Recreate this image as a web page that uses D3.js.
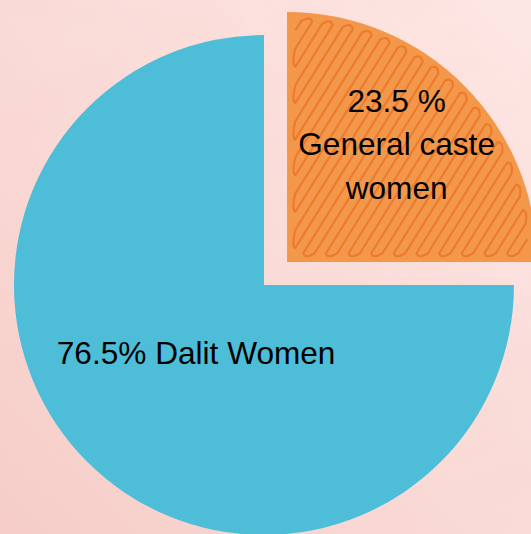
<!DOCTYPE html>
<html>
<head>
<meta charset="utf-8">
<script src="https://cdn.jsdelivr.net/npm/d3@7"></script>
<style>
  body { margin: 0; background: #f9d9d5; }
  svg { display: block; font-family: "Liberation Sans", Arial, sans-serif; }
</style>
</head>
<body>
<svg id="chart"></svg>
<script>
// Dalit vs general caste women pie

var width = 531,
    height = 534;

// slices, in drawing order (clockwise from 12 o'clock)
var categories = ["General caste women", "Dalit Women"];
var percentages = [23.5, 76.5];
var labelLines = [["23.5 %", "General caste", "women"], ["76.5% Dalit Women"]];
// part of the circle each slice covers in the graphic (drawn as exact quarters)
var drawnShares = [25, 75];
var colors = ["#f3984b", "#4ebdd8"];

var radius = 250,
    center = [275.5, 273.5],
    explode = 16.3;

var svg = d3.select("#chart")
    .attr("width", width)
    .attr("height", height);

var defs = svg.append("defs");

// pink watercolour-ish backdrop
var bg = defs.append("linearGradient")
    .attr("id", "bg")
    .attr("x1", "100%").attr("y1", "0%")
    .attr("x2", "0%").attr("y2", "100%");
bg.append("stop").attr("offset", "0%").attr("stop-color", "#fde7e4");
bg.append("stop").attr("offset", "55%").attr("stop-color", "#fadad6");
bg.append("stop").attr("offset", "100%").attr("stop-color", "#f6cdc8");

var noise = defs.append("filter").attr("id", "noise")
    .attr("x", 0).attr("y", 0).attr("width", "100%").attr("height", "100%");
noise.append("feTurbulence")
    .attr("type", "fractalNoise")
    .attr("baseFrequency", "0.011 0.018")
    .attr("numOctaves", 4)
    .attr("seed", 7);
noise.append("feColorMatrix")
    .attr("type", "matrix")
    .attr("values", "0 0 0 0 0.93  0 0 0 0 0.64  0 0 0 0 0.62  0.9 0 0 0 -0.38");

svg.append("rect").attr("width", width).attr("height", height).attr("fill", "url(#bg)");
svg.append("rect").attr("width", width).attr("height", height)
    .attr("filter", "url(#noise)").attr("opacity", 0.6);

var pie = d3.pie()
    .sort(null)
    .value(function(d, i) { return drawnShares[i]; });

var arc = d3.arc()
    .innerRadius(0)
    .outerRadius(radius);

var arcs = pie(categories);

function midAngle(a) { return (a.startAngle + a.endAngle) / 2; }

var slices = svg.selectAll(".slice")
    .data(arcs)
    .enter().append("g")
    .attr("class", "slice")
    .attr("transform", function(a) {
      var m = midAngle(a);
      return "translate(" + (center[0] + Math.sin(m) * explode) + "," +
                            (center[1] - Math.cos(m) * explode) + ")";
    });

slices.append("path")
    .attr("d", arc)
    .attr("fill", function(a, i) { return colors[i]; });

// scribbled hatching for the small slice
function inside(a, x, y, inset) {
  var r = Math.sqrt(x * x + y * y);
  if (r > radius - inset) return false;
  var ang = Math.atan2(x, -y);
  if (ang < 0) ang += 2 * Math.PI;
  if (ang < a.startAngle || ang > a.endAngle) return false;
  return r * Math.sin(ang - a.startAngle) >= inset && r * Math.sin(a.endAngle - ang) >= inset;
}

function scribble(a) {
  var th = 58 * Math.PI / 180,
      d = [Math.cos(th), -Math.sin(th)],   // stroke direction (up-right)
      w = [Math.sin(th), Math.cos(th)],    // across the strokes
      step = 9.6,
      lines = [];
  for (var c = -radius; c <= radius; c += step) {
    var lo = null, hi = null;
    for (var s = -radius; s <= radius; s += 1) {
      var x = c * w[0] + s * d[0], y = c * w[1] + s * d[1];
      if (inside(a, x, y, 8)) { if (lo === null) lo = s; hi = s; }
    }
    if (lo !== null && hi - lo > 6) {
      lines.push({
        lo: [c * w[0] + lo * d[0], c * w[1] + lo * d[1]],
        hi: [c * w[0] + hi * d[0], c * w[1] + hi * d[1]]
      });
    }
  }
  var p = d3.path(), over = 7;
  lines.forEach(function(l, k) {
    var from = k % 2 ? l.hi : l.lo,
        to = k % 2 ? l.lo : l.hi;
    if (k === 0) p.moveTo(from[0], from[1]);
    p.lineTo(to[0], to[1]);
    var next = lines[k + 1];
    if (next) {
      var nf = k % 2 ? next.lo : next.hi,
          sign = k % 2 ? -1 : 1;
      var cx = (to[0] + nf[0]) / 2 + sign * d[0] * over,
          cy = (to[1] + nf[1]) / 2 + sign * d[1] * over;
      p.quadraticCurveTo(cx, cy, nf[0], nf[1]);
    }
  });
  return p.toString();
}

slices.filter(function(a, i) { return i === 0; })
  .append("path")
    .attr("d", scribble)
    .attr("fill", "none")
    .attr("stroke", "#ee7a2c")
    .attr("stroke-width", 2.2)
    .attr("stroke-linejoin", "round");

// labels
var labelRadius = [155, 96],
    labelShift = [3, 11],
    lineGap = 43.5;

slices.append("text")
    .attr("text-anchor", "middle")
    .attr("font-size", 31.6)
    .attr("fill", "#000")
    .each(function(a, i) {
      var m = midAngle(a),
          x = Math.sin(m) * labelRadius[i],
          y = -Math.cos(m) * labelRadius[i],
          lines = labelLines[i],
          first = -(lines.length - 1) / 2;
      d3.select(this).selectAll("tspan")
        .data(lines)
        .enter().append("tspan")
        .attr("x", x)
        .attr("y", function(t, j) { return y + (first + j) * lineGap + labelShift[i]; })
        .text(String);
    });
</script>
</body>
</html>
